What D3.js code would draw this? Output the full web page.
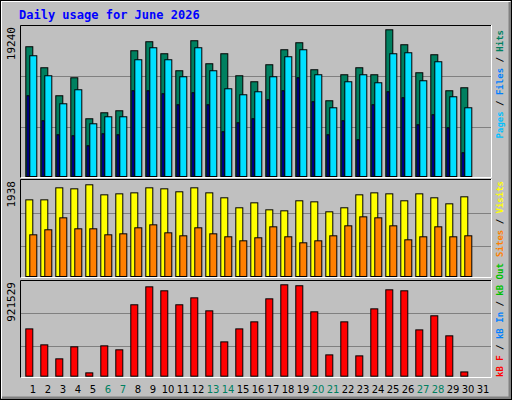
<!DOCTYPE html>
<html><head><meta charset="utf-8">
<script src="https://cdn.jsdelivr.net/npm/d3@7"></script>
<style>body{margin:0;background:#fff}svg{display:block}</style>
</head><body><svg id="chart"></svg>
<script>
const W = 512, H = 400;

const days = d3.range(1, 32);
const weekend = [6, 7, 13, 14, 20, 21, 27, 28];
const hits = [17017,14261,10588,12949,7570,8357,8620,16492,17673,16098,13868,17804,14786,16098,13212,12425,14655,16623,17541,13999,9932,13343,14261,13343,19240,17279,13605,15967,11244,11637];
const files = [15836,13212,9538,11375,6914,7833,7833,15311,16885,15311,13081,16885,13868,11506,10719,11113,13081,15705,16623,13343,9013,12425,13343,12293,16098,16229,12556,15049,10457,9013];
const pages = [10588,7308,5471,5340,4028,5602,5471,11244,11244,10850,9407,10981,9407,5865,7045,7570,10063,11244,12949,9801,5471,7308,4815,9407,11113,10325,6783,8095,6389,3109];
const visits = [1620,1620,1874,1853,1938,1726,1747,1768,1874,1853,1790,1874,1768,1663,1452,1557,1409,1388,1600,1578,1367,1452,1726,1768,1747,1600,1747,1663,1536,1684];
const sites = [881,987,1240,1008,1008,881,902,1029,1092,923,860,1029,902,839,754,818,1050,839,712,754,860,1071,1261,1240,1071,775,839,1050,839,860];
const kbytes = [477000,316000,175000,296000,33600,306000,266000,720000,901000,861000,720000,790000,659000,346000,477000,548000,780000,921529,912000,649000,215000,548000,205000,679000,871000,861000,467000,609000,407000,43000];

const svg = d3.select('#chart').attr('width', W).attr('height', H);
const mono = "'DejaVu Sans Mono', monospace";

// frame
svg.append('rect').attr('width', W).attr('height', H).attr('fill', '#c0c0c0');
svg.append('path').attr('d', `M1,${H-2}V1H${W-2}`).attr('stroke', '#fff').attr('stroke-width', 2).attr('fill', 'none');
svg.append('path').attr('d', `M2,${H-2}H${W-2}V2`).attr('stroke', '#808080').attr('stroke-width', 3).attr('fill', 'none');
svg.append('rect').attr('x', 0.5).attr('y', 0.5).attr('width', W - 1).attr('height', H - 1).attr('fill', 'none').attr('stroke', '#000');

svg.append('text').attr('x', 19).attr('y', 19).attr('fill', '#0000ff')
    .style('font', `bold 12px ${mono}`).text('Daily usage for June 2026');

const x = d3.scaleLinear().domain([1, 31]).range([25.3, 475.3]);

const panels = [
    { top: 25, bot: 178, base: 176, peak: 29.3, max: 19240, grid: [76, 127], label: '19240',
      lpos: 30, anchor: 'end',
      legend: [['Pages', '#00c0ff'], ['Files', '#0080ff'], ['Hits', '#008060']] },
    { top: 179, bot: 278, base: 276, peak: 184.3, max: 1938, grid: [213, 246], label: '1938',
      lpos: 181, anchor: 'end',
      legend: [['Sites', '#ff8000'], ['Visits', '#ffff00']] },
    { top: 280, bot: 378, base: 375.7, peak: 284.3, max: 921529, grid: [313, 346], label: '921529',
      lpos: 377, anchor: 'start',
      legend: [['kB F', '#ff0000'], ['kB In', '#0080ff'], ['kB Out', '#00c000']] }
];

panels.forEach(p => {
    svg.append('path').attr('d', `M20.5,${p.bot}V${p.top + 0.5}H491`).attr('stroke', '#000').attr('fill', 'none');
    svg.append('path').attr('d', `M20.5,${p.bot - 0.5}H491.5V${p.top}`).attr('stroke', '#fff').attr('fill', 'none');
    p.grid.forEach(g => svg.append('line').attr('x1', 21).attr('x2', 491).attr('y1', g + 0.5).attr('y2', g + 0.5)
        .attr('stroke', '#808080'));
    p.y = d3.scaleLinear().domain([0, p.max]).range([p.base, p.peak]);
    svg.append('text').attr('transform', `translate(15,${p.top + 2}) rotate(-90)`).attr('text-anchor', 'end')
        .style('font', `11px ${mono}`).attr('fill', '#000').text(p.label);
    const t = svg.append('text').attr('transform', `translate(503,${p.lpos}) rotate(-90)`)
        .attr('text-anchor', p.anchor).style('font', `bold 9px ${mono}`);
    p.legend.forEach((l, i) => {
        if (i) t.append('tspan').attr('fill', '#000').text(' / ');
        t.append('tspan').attr('fill', l[1]).text(l[0]);
    });
});

function bars(data, p, dx, w, color) {
    svg.append('g').selectAll('rect').data(data).enter().append('rect')
        .attr('x', (d, i) => x(i + 1) + dx + 0.5)
        .attr('y', d => p.y(d) + 0.5)
        .attr('width', w)
        .attr('height', d => p.base - p.y(d))
        .attr('fill', color).attr('stroke', '#000');
}
bars(hits, panels[0], 0, 7, '#008060');
bars(files, panels[0], 4, 7, '#00e0ff');
bars(pages, panels[0], 1.2, 2, '#0000ff');
bars(visits, panels[1], 0, 7, '#ffff00');
bars(sites, panels[1], 4, 7, '#ff8000');
bars(kbytes, panels[2], 0, 7, '#ff0000');

svg.append('g').selectAll('text').data(days).enter().append('text')
    .attr('x', d => x(d) + 7.7).attr('y', 393).attr('text-anchor', 'middle')
    .style('font', "10px 'DejaVu Sans', sans-serif")
    .attr('fill', d => weekend.includes(d) ? '#008060' : '#000')
    .text(d => d);
</script>
</body></html>
